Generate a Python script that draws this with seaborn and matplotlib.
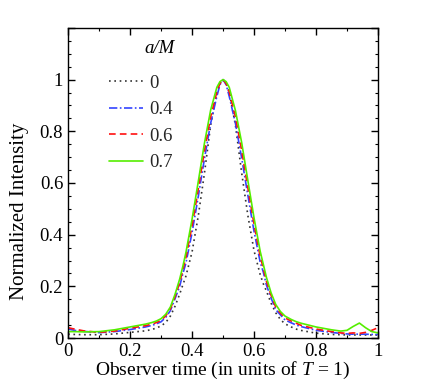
import matplotlib
matplotlib.use("Agg")
import matplotlib.pyplot as plt
from matplotlib.ticker import MultipleLocator, FuncFormatter
import seaborn as sns
import pandas as pd

sns.set_theme(style="white")
plt.rcParams['font.family'] = ['Liberation Serif', 'DejaVu Serif']
plt.rcParams['mathtext.fontset'] = 'custom'
plt.rcParams['mathtext.rm'] = 'Liberation Serif'
plt.rcParams['mathtext.it'] = 'Liberation Serif:italic'

time = [0, 0.02, 0.05, 0.1, 0.15, 0.2, 0.25, 0.27, 0.285, 0.3, 0.315, 0.33, 0.345, 0.36,
        0.37, 0.38, 0.40, 0.42, 0.44, 0.46, 0.48, 0.49, 0.50, 0.51, 0.52, 0.54, 0.56,
        0.58, 0.60, 0.62, 0.63, 0.64, 0.655, 0.67, 0.685, 0.70, 0.72, 0.735, 0.75, 0.80,
        0.85, 0.88, 0.90, 0.92, 0.94, 0.96, 0.98, 1.0]

spin_labels = ["0", "0.4", "0.6", "0.7"]

intensity_a0 = [0.015, 0.014, 0.013, 0.013, 0.016, 0.022, 0.028, 0.033, 0.039, 0.047, 0.06,
                0.085, 0.123, 0.17, 0.205, 0.239, 0.333, 0.472, 0.638, 0.824, 0.95, 0.985,
                1.0, 0.985, 0.95, 0.824, 0.64, 0.475, 0.338, 0.245, 0.21, 0.182, 0.135,
                0.098, 0.072, 0.055, 0.043, 0.035, 0.03, 0.019, 0.014, 0.013, 0.012, 0.012,
                0.012, 0.012, 0.012, 0.012]
intensity_a04 = [0.035, 0.03, 0.026, 0.021, 0.025, 0.033, 0.043, 0.049, 0.055, 0.063, 0.08,
                 0.106, 0.152, 0.2, 0.248, 0.289, 0.408, 0.547, 0.694, 0.831, 0.935, 0.98,
                 1.0, 0.98, 0.935, 0.831, 0.697, 0.553, 0.413, 0.293, 0.255, 0.205, 0.155,
                 0.11, 0.09, 0.07, 0.059, 0.051, 0.045, 0.03, 0.022, 0.018, 0.016, 0.015,
                 0.015, 0.015, 0.014, 0.014]
intensity_a06 = [0.04, 0.035, 0.028, 0.022, 0.027, 0.038, 0.048, 0.054, 0.06, 0.068, 0.086,
                 0.113, 0.16, 0.214, 0.262, 0.31, 0.434, 0.576, 0.724, 0.856, 0.952, 0.985,
                 1.0, 0.985, 0.952, 0.856, 0.727, 0.582, 0.44, 0.315, 0.27, 0.22, 0.165,
                 0.12, 0.097, 0.078, 0.066, 0.058, 0.05, 0.035, 0.025, 0.02, 0.018, 0.02,
                 0.018, 0.022, 0.03, 0.04]
intensity_a07 = [0.025, 0.025, 0.024, 0.025, 0.032, 0.043, 0.054, 0.060, 0.066, 0.075, 0.092,
                 0.12, 0.169, 0.228, 0.276, 0.33, 0.46, 0.605, 0.754, 0.882, 0.970, 0.992,
                 1.0, 0.992, 0.970, 0.880, 0.757, 0.61, 0.465, 0.335, 0.285, 0.235, 0.175,
                 0.13, 0.103, 0.085, 0.072, 0.064, 0.058, 0.043, 0.032, 0.027, 0.03, 0.045,
                 0.058, 0.04, 0.025, 0.02]

series = [intensity_a0, intensity_a04, intensity_a06, intensity_a07]
colors = ["#333333", "#3344ff", "#ff1111", "#55ee00"]
styles = [(0, (1, 2.2)), (0, (5, 1.5, 1, 1.5)), (0, (4, 2.5)), "-"]

fig = plt.figure(figsize=(4.31, 3.82), dpi=100)
ax = fig.add_axes([0.158, 0.115, 0.719, 0.812])

for lab, vals, c, ls in zip(spin_labels, series, colors, styles):
    df = pd.DataFrame({"t": time, "I": vals})
    sns.lineplot(data=df, x="t", y="I", ax=ax, color=c, linestyle=ls,
                 linewidth=1.2, label=lab, estimator=None, sort=False)

ax.set_xlim(0, 1)
ax.set_ylim(0, 1.2)
ax.xaxis.set_major_locator(MultipleLocator(0.2))
ax.xaxis.set_minor_locator(MultipleLocator(0.1))
ax.yaxis.set_major_locator(MultipleLocator(0.2))
ax.yaxis.set_minor_locator(MultipleLocator(0.05))
fmt = FuncFormatter(lambda v, p: ("%g" % round(v, 2)) if v <= 1.0001 else "")
ax.xaxis.set_major_formatter(fmt)
ax.yaxis.set_major_formatter(fmt)
ax.tick_params(which="both", direction="in", top=True, right=True, bottom=True, left=True,
               colors="black", labelsize=13.5)
ax.tick_params(which="major", length=5, width=1)
ax.tick_params(which="minor", length=2.5, width=0.8)
for s in ax.spines.values():
    s.set_color("black")
    s.set_linewidth(1)

ax.set_xlabel("Observer time (in units of $T$ = 1)", fontsize=14, labelpad=0, color="black")
ax.set_ylabel("Normalized Intensity", fontsize=15, color="black")
ax.yaxis.set_label_coords(-0.125, 0.41)

leg = ax.legend(loc="upper left", bbox_to_anchor=(0.09, 0.891), frameon=False,
                fontsize=13.5, handlelength=1.8, handletextpad=0.35,
                labelspacing=0.5, borderpad=0.2)
ax.text(0.345, 0.932, "a/M", transform=ax.transAxes, ha="right", va="center",
        fontsize=13.5, fontstyle="italic", color="black")

fig.savefig("out.png", dpi=100)
